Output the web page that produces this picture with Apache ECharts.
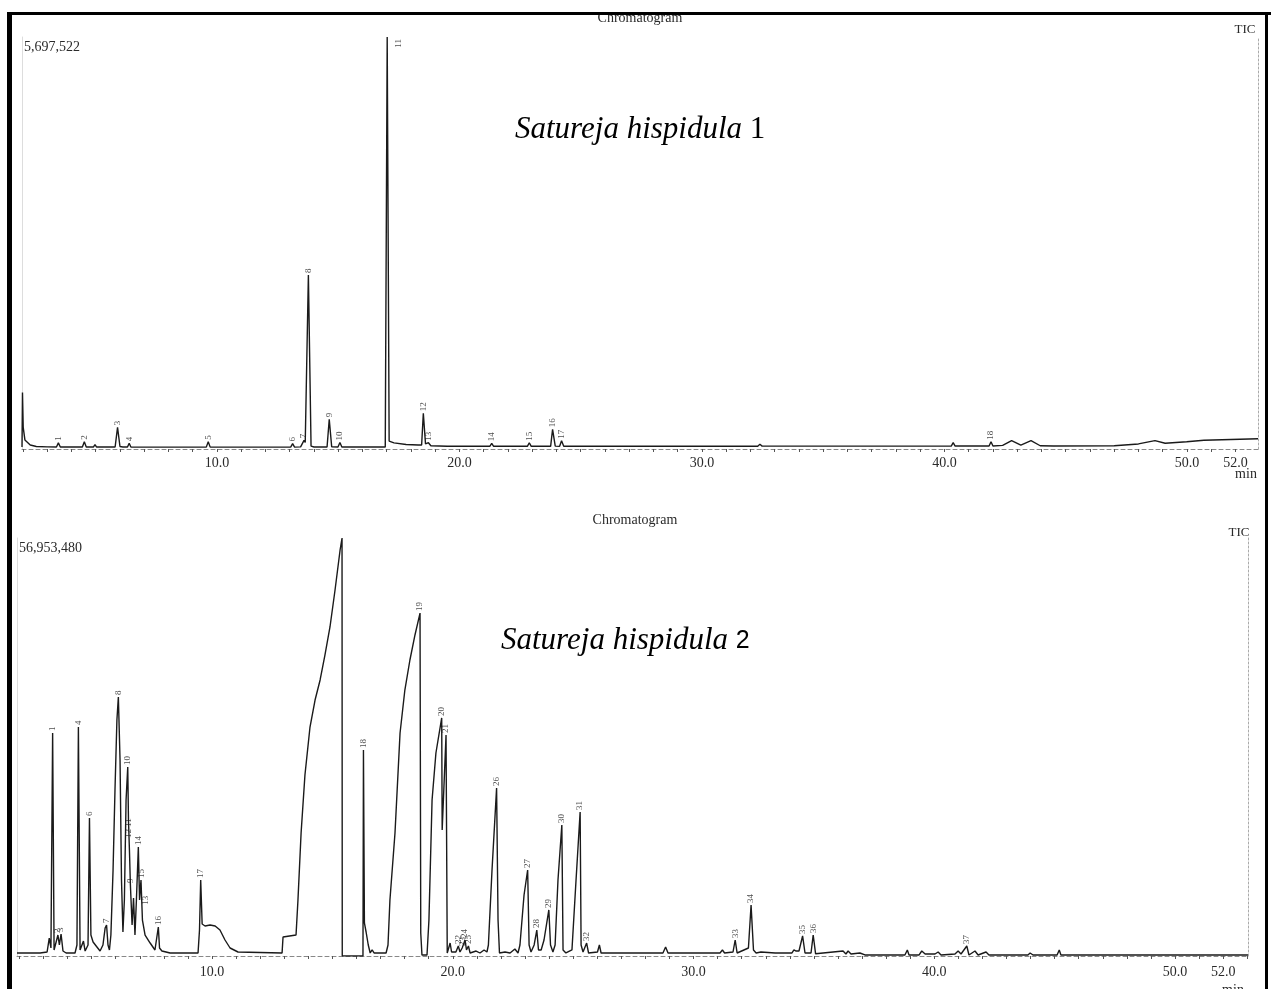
<!DOCTYPE html>
<html>
<head>
<meta charset="utf-8">
<script src="https://cdn.jsdelivr.net/npm/echarts@6/dist/echarts.min.js"></script>
<style>html,body{margin:0;padding:0;background:#fff}#c{width:1271px;height:989px}</style>
</head>
<body>
<div id="c"></div>
<script>
// ---------- data ----------
const fullScaleTop = 5697522;
const fullScaleBottom = 56953480;
const xTickLabels = [10, 20, 30, 40, 50, 52];

// Satureja hispidula 1 : [retention time (min), intensity]
const traceTop = [
  [1.96, 28000], [1.98, 780000], [2.01, 300000], [2.08, 125000], [2.3, 55000], [2.55, 35000],
  [3.0, 30000], [3.38, 28000], [3.46, 85000], [3.54, 28000], [4.45, 28000], [4.53, 100000],
  [4.61, 28000], [4.91, 28000], [4.97, 60000], [5.03, 28000], [5.8, 28000], [5.9, 300000],
  [6.0, 35000], [6.12, 28000], [6.31, 28000], [6.38, 80000], [6.45, 28000], [6.9, 26000],
  [6.96, 50000], [7.02, 26000], [9.56, 26000], [9.64, 100000], [9.72, 26000], [13.04, 26000],
  [13.12, 75000], [13.2, 26000], [13.45, 30000], [13.59, 120000], [13.64, 90000], [13.77, 2406000],
  [13.88, 40000], [14.0, 28000], [14.54, 28000], [14.63, 411000], [14.73, 32000], [14.99, 28000],
  [15.07, 90000], [15.15, 28000], [16.94, 28000], [17.02, 5697522], [17.1, 110000], [17.3, 85000],
  [17.8, 62000], [18.3, 55000], [18.44, 55000], [18.51, 494000], [18.6, 70000], [18.72, 87000],
  [18.82, 45000], [19.5, 38000], [21.25, 37000], [21.33, 79000], [21.41, 37000], [22.8, 37000],
  [22.88, 87000], [22.96, 37000], [23.76, 37000], [23.84, 272000], [23.95, 40000], [24.13, 37000],
  [24.21, 115000], [24.3, 37000], [32.3, 38000], [32.39, 65000], [32.48, 40000], [40.28, 41000],
  [40.36, 87000], [40.44, 41000], [41.84, 41000], [41.92, 101000], [42.0, 41000], [42.4, 50000],
  [42.77, 115000], [43.15, 55000], [43.57, 115000], [43.95, 45000], [44.5, 41000], [47.0, 45000],
  [48.0, 70000], [48.68, 115000], [49.1, 79000], [49.99, 101000], [50.7, 120000], [52.93, 142000]
];
const peakNamesTop = ['1','2','3','4','5','6','7','8','9','10','11','12','13','14','15','16','17','18'];
const peakTimesTop = [3.46, 4.53, 5.90, 6.38, 9.64, 13.12, 13.59, 13.77, 14.63, 15.07, 17.02, 18.51, 18.72, 21.33, 22.88, 23.84, 24.21, 41.92];
const peakHeightsTop = [85000, 100000, 300000, 80000, 100000, 75000, 120000, 2406000, 411000, 90000, 5697522, 494000, 87000, 79000, 87000, 272000, 115000, 101000];

// Satureja hispidula 2 : [retention time (min), intensity]
const traceBottom = [
  [1.90, 409000], [2.86, 409000], [3.15, 545000], [3.24, 2450000], [3.31, 1090000], [3.38, 30380000],
  [3.44, 820000], [3.52, 680000], [3.60, 2860000], [3.66, 1500000], [3.73, 3000000], [3.81, 680000],
  [3.94, 409000], [4.31, 409000], [4.39, 1500000], [4.45, 31200000], [4.52, 820000], [4.60, 1090000],
  [4.66, 2040000], [4.73, 680000], [4.85, 1500000], [4.91, 18800000], [4.97, 2860000], [5.06, 1910000],
  [5.14, 2180000], [5.22, 1230000], [5.35, 680000], [5.47, 1500000], [5.56, 3810000], [5.62, 4220000],
  [5.68, 1500000], [5.74, 820000], [5.80, 2860000], [5.89, 11720000], [5.97, 22620000], [6.05, 32160000],
  [6.11, 35290000], [6.18, 26710000], [6.24, 10360000], [6.30, 3270000], [6.36, 7630000], [6.43, 21260000],
  [6.50, 25750000], [6.53, 18530000], [6.57, 14440000], [6.61, 9670000], [6.68, 4220000], [6.74, 7900000],
  [6.80, 2860000], [6.86, 7630000], [6.94, 14850000], [6.99, 7630000], [7.05, 10360000], [7.11, 4900000],
  [7.22, 2860000], [7.43, 1770000], [7.63, 820000], [7.71, 1090000], [7.77, 3950000], [7.82, 1090000],
  [7.92, 680000], [8.26, 409000], [9.42, 409000], [9.48, 3540000], [9.53, 10360000], [9.59, 4360000],
  [9.71, 4090000], [9.92, 4220000], [10.13, 4090000], [10.33, 3540000], [10.54, 2180000], [10.75, 1090000],
  [11.08, 545000], [12.91, 409000], [12.95, 2590000], [13.49, 2860000], [13.57, 7630000], [13.70, 16760000],
  [13.86, 24660000], [14.07, 31200000], [14.28, 34880000], [14.49, 37610000], [14.69, 41010000], [14.90, 44830000],
  [15.11, 49870000], [15.32, 55320000], [15.40, 56953480], [15.41, 0], [16.27, 0], [16.29, 28070000],
  [16.33, 4500000], [16.40, 3270000], [16.49, 1500000], [16.57, 409000], [16.65, 820000], [16.73, 409000],
  [16.81, 680000], [16.98, 409000], [17.23, 409000], [17.31, 1500000], [17.39, 7630000], [17.60, 16760000],
  [17.81, 30380000], [18.01, 36240000], [18.22, 40330000], [18.43, 43740000], [18.64, 46730000], [18.67, 3130000],
  [18.72, 140000], [18.93, 140000], [19.01, 4900000], [19.14, 21260000], [19.30, 27660000], [19.54, 32430000],
  [19.56, 17170000], [19.72, 30110000], [19.77, 409000], [19.84, 409000], [19.89, 1770000], [19.95, 545000],
  [20.13, 545000], [20.23, 1360000], [20.30, 545000], [20.39, 1090000], [20.51, 2180000], [20.57, 820000],
  [20.65, 1360000], [20.72, 409000], [20.97, 680000], [21.13, 409000], [21.30, 820000], [21.42, 545000],
  [21.48, 1500000], [21.63, 11720000], [21.82, 22890000], [21.88, 4900000], [21.94, 409000], [22.17, 545000],
  [22.38, 409000], [22.58, 950000], [22.71, 409000], [22.79, 1500000], [22.96, 8310000], [23.11, 11720000],
  [23.17, 1500000], [23.25, 545000], [23.38, 1500000], [23.49, 3540000], [23.56, 820000], [23.67, 820000],
  [23.79, 2180000], [23.99, 6270000], [24.06, 1500000], [24.16, 545000], [24.25, 1500000], [24.37, 10360000],
  [24.53, 17850000], [24.58, 820000], [24.70, 409000], [24.95, 820000], [25.12, 10360000], [25.29, 19620000],
  [25.33, 1500000], [25.41, 545000], [25.56, 1770000], [25.64, 409000], [26.01, 545000], [26.09, 1500000],
  [26.16, 409000], [27.28, 409000], [27.33, 610000], [27.40, 409000], [28.73, 409000], [28.84, 1230000],
  [28.94, 409000], [31.10, 409000], [31.20, 820000], [31.29, 409000], [31.64, 545000], [31.73, 2180000],
  [31.81, 409000], [32.28, 1090000], [32.39, 6950000], [32.49, 820000], [32.60, 409000], [32.80, 545000],
  [32.87, 409000], [33.39, 409000], [33.43, 545000], [33.47, 409000], [34.09, 409000], [34.17, 820000],
  [34.26, 680000], [34.32, 950000], [34.38, 680000], [34.53, 2730000], [34.63, 409000], [34.88, 409000],
  [34.97, 2860000], [35.07, 300000], [36.21, 680000], [36.33, 272000], [36.42, 680000], [36.54, 272000],
  [36.91, 409000], [37.12, 140000], [38.78, 140000], [38.88, 820000], [38.95, 140000], [39.37, 140000],
  [39.48, 680000], [39.62, 272000], [40.03, 272000], [40.16, 545000], [40.28, 140000], [40.86, 272000],
  [40.99, 680000], [41.11, 272000], [41.35, 1360000], [41.44, 140000], [41.69, 680000], [41.82, 140000],
  [42.15, 545000], [42.27, 140000], [43.89, 140000], [43.98, 409000], [44.10, 140000], [45.10, 140000],
  [45.19, 820000], [45.26, 140000], [49.79, 140000], [49.86, 409000], [49.96, 140000], [53.03, 140000]
];
const peakNamesBottom = ['1','2','3','4','6','7','8','9','10','11','12','13','14','15','16','17','18','19','20','21','22','23','24','25','26','27','28','29','30','31','32','33','34','35','36','37'];
const peakTimesBottom = [3.38, 3.60, 3.73, 4.45, 4.91, 5.62, 6.11, 6.61, 6.50, 6.55, 6.53, 7.26, 6.94, 7.09, 7.77, 9.53, 16.29, 18.64, 19.54, 19.72, 20.23, 20.40, 20.51, 20.65, 21.82, 23.11, 23.49, 23.99, 24.53, 25.29, 25.56, 31.73, 32.39, 34.53, 34.97, 41.35];
const peakHeightsBottom = [30380000, 2860000, 3000000, 31200000, 18800000, 4220000, 35290000, 9670000, 25750000, 17300000, 15800000, 6700000, 14850000, 10360000, 3950000, 10360000, 28070000, 46730000, 32430000, 30110000, 1360000, 1090000, 2180000, 1360000, 22890000, 11720000, 3540000, 6270000, 17850000, 19620000, 1770000, 2180000, 6950000, 2730000, 2860000, 1360000];

// ---------- chart ----------
const SERIF = 'Liberation Serif';
const INK = '#1a1a1a';
const minuteTicks = [];
for (let m = 2; m <= 53; m++) minuteTicks.push(m);
const fmtInt = v => String(Math.round(v)).replace(/\B(?=(\d{3})+(?!\d))/g, ',');

function bottomAxis(grid, min, max, margin) {
  return {
    type: 'value', gridIndex: grid, min: min, max: max, position: 'bottom',
    axisLine: { show: false },
    axisTick: { show: true, customValues: minuteTicks.filter(v => v >= min && v <= max), length: 3, lineStyle: { color: '#555', width: 1 } },
    axisLabel: { customValues: xTickLabels, formatter: v => v.toFixed(1), fontFamily: SERIF, fontSize: 14, color: '#2a2a2a', margin: margin },
    splitLine: { show: false }
  };
}
function topAxis(grid, min, max) {
  return {
    type: 'value', gridIndex: grid, min: min, max: max, position: 'top',
    axisLine: { show: true, lineStyle: { color: '#888', width: 1, type: [4, 3] } },
    axisTick: { show: false }, axisLabel: { show: false }, splitLine: { show: false }
  };
}
function leftAxis(grid, max) {
  return {
    type: 'value', gridIndex: grid, min: 0, max: max, position: 'left',
    axisLine: { show: true, lineStyle: { color: '#ddd', width: 1 } },
    axisTick: { show: false },
    axisLabel: { customValues: [max], inside: true, formatter: v => fmtInt(v), fontFamily: SERIF, fontSize: 14, color: '#2a2a2a', verticalAlign: 'top', align: 'left', margin: 2, padding: [3, 0, 0, 0] },
    splitLine: { show: false }
  };
}
function rightAxis(grid, max) {
  return {
    type: 'value', gridIndex: grid, min: 0, max: max, position: 'right',
    axisLine: { show: true, lineStyle: { color: '#aaa', width: 1, type: [2, 2] } },
    axisTick: { show: false }, axisLabel: { show: false }, splitLine: { show: false }
  };
}
function labelData(names, times, heights, special) {
  return names.map((n, i) => {
    const d = { name: n, value: [times[i], heights[i]] };
    if (special && special[n]) d.label = special[n];
    return d;
  });
}
const peakLabel = {
  show: true, formatter: p => p.name, position: 'top', distance: 2, rotate: 90,
  align: 'left', verticalAlign: 'middle', fontSize: 9, fontFamily: SERIF, color: '#1a1a1a'
};

const chart = echarts.init(document.getElementById('c'), null, { renderer: 'canvas' });
chart.setOption({
  animation: false,
  backgroundColor: '#fff',
  grid: [
    { left: 22, right: 13, top: 37, height: 412 },
    { left: 17, right: 23, top: 538, height: 418 }
  ],
  xAxis: [
    bottomAxis(0, 1.96, 52.93, 7),
    topAxis(0, 1.96, 52.93),
    bottomAxis(1, 1.90, 53.03, 9),
    topAxis(1, 1.90, 53.03)
  ],
  yAxis: [
    leftAxis(0, fullScaleTop),
    rightAxis(0, fullScaleTop),
    leftAxis(1, fullScaleBottom),
    rightAxis(1, fullScaleBottom)
  ],
  series: [
    { type: 'line', xAxisIndex: 0, yAxisIndex: 0, data: traceTop, showSymbol: false, symbol: 'none',
      lineStyle: { color: INK, width: 1.4 }, clip: true, z: 3 },
    { type: 'scatter', xAxisIndex: 0, yAxisIndex: 0, symbolSize: 0, clip: false,
      data: labelData(peakNamesTop, peakTimesTop, peakHeightsTop, { '11': { position: [11, 2], align: 'right' } }),
      label: peakLabel, z: 4 },
    { type: 'line', xAxisIndex: 2, yAxisIndex: 2, data: traceBottom, showSymbol: false, symbol: 'none',
      lineStyle: { color: INK, width: 1.4 }, clip: true, z: 3 },
    { type: 'scatter', xAxisIndex: 2, yAxisIndex: 2, symbolSize: 0, clip: false,
      data: labelData(peakNamesBottom, peakTimesBottom, peakHeightsBottom),
      label: peakLabel, z: 4 }
  ],
  graphic: [
    { type: 'text', x: 640, y: 18, z: 10, style: { text: 'Chromatogram', fill: '#2a2a2a', font: '14px "Liberation Serif"', align: 'center', verticalAlign: 'middle' } },
    { type: 'text', x: 635, y: 520, z: 10, style: { text: 'Chromatogram', fill: '#2a2a2a', font: '14px "Liberation Serif"', align: 'center', verticalAlign: 'middle' } },
    { type: 'text', x: 1245, y: 30, z: 10, style: { text: 'TIC', fill: '#2a2a2a', font: '13px "Liberation Serif"', align: 'center', verticalAlign: 'middle' } },
    { type: 'text', x: 1239, y: 533, z: 10, style: { text: 'TIC', fill: '#2a2a2a', font: '13px "Liberation Serif"', align: 'center', verticalAlign: 'middle' } },
    { type: 'text', x: 1246, y: 474, z: 10, style: { text: 'min', fill: '#2a2a2a', font: '14px "Liberation Serif"', align: 'center', verticalAlign: 'middle' } },
    { type: 'text', x: 1233, y: 990, z: 10, style: { text: 'min', fill: '#2a2a2a', font: '14px "Liberation Serif"', align: 'center', verticalAlign: 'middle' } },
    { type: 'text', x: 515, y: 130, z: 10, style: {
        text: '{i|Satureja hispidula }{n|1}', verticalAlign: 'middle', align: 'left',
        rich: { i: { fontFamily: SERIF, fontStyle: 'italic', fontSize: 31, fill: '#000' },
                n: { fontFamily: SERIF, fontSize: 31, fill: '#000' } } } },
    { type: 'text', x: 501, y: 641, z: 10, style: {
        text: '{i|Satureja hispidula }{n|2}', verticalAlign: 'middle', align: 'left',
        rich: { i: { fontFamily: SERIF, fontStyle: 'italic', fontSize: 31, fill: '#000' },
                n: { fontFamily: 'Liberation Sans', fontSize: 25, fill: '#000' } } } },
    // page frame
    { type: 'rect', z: 20, shape: { x: 0, y: 0, width: 1271, height: 12 }, style: { fill: '#fff' } },
    { type: 'rect', z: 21, shape: { x: 7, y: 12, width: 1264, height: 3 }, style: { fill: '#000' } },
    { type: 'rect', z: 21, shape: { x: 7, y: 12, width: 5, height: 977 }, style: { fill: '#000' } },
    { type: 'rect', z: 21, shape: { x: 1265, y: 12, width: 3, height: 977 }, style: { fill: '#000' } }
  ]
});
</script>
</body>
</html>
